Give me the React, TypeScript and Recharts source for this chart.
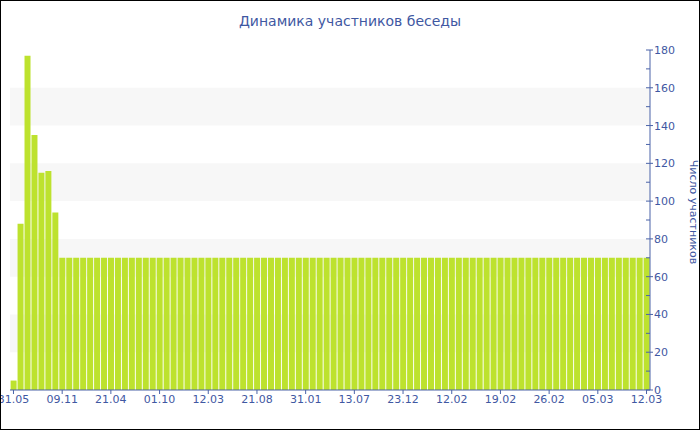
import React from 'react';
import { BarChart, Bar, XAxis, YAxis, ReferenceArea } from 'recharts';

const title = 'Динамика участников беседы';
const yAxisTitle = 'Число участников';

const tickLabels = ['31.05', '09.11', '21.04', '01.10', '12.03', '21.08', '31.01', '13.07', '23.12', '12.02', '19.02', '26.02', '05.03', '12.03'];

const participants = [
  5, 88, 177, 135, 115, 116, 94,
  70, 70, 70, 70, 70, 70, 70,
  70, 70, 70, 70, 70, 70, 70,
  70, 70, 70, 70, 70, 70, 70,
  70, 70, 70, 70, 70, 70, 70,
  70, 70, 70, 70, 70, 70, 70,
  70, 70, 70, 70, 70, 70, 70,
  70, 70, 70, 70, 70, 70, 70,
  70, 70, 70, 70, 70, 70, 70,
  70, 70, 70, 70, 70, 70, 70,
  70, 70, 70, 70, 70, 70, 70,
  70, 70, 70, 70, 70, 70, 70,
  70, 70, 70, 70, 70, 70, 70,
  70,
];

const yTicks = [0, 10, 20, 30, 40, 50, 60, 70, 80, 90, 100, 110, 120, 130, 140, 150, 160, 170, 180];
const bands = [[20, 40], [60, 80], [100, 120], [140, 160]];

const data = participants.map((v, i) => ({ i, v }));

const AXIS = '#4a63a8';
const TEXT = '#3f58a2';
const BAR = '#bde22e';
const FONT = '"DejaVu Sans", Verdana, sans-serif';

const RightTick = (props: any) => {
  const { x, y, payload } = props;
  const v = payload.value;
  const major = v % 20 === 0;
  return (
    <g>
      <line x1={x - 4} x2={major ? x + 3 : x} y1={y} y2={y} stroke={AXIS} strokeWidth={1} />
      {major && (
        <text x={x + 4} y={y} dy="0.36em" fill={TEXT} fontSize={11} fontFamily={FONT} textAnchor="start">
          {v}
        </text>
      )}
    </g>
  );
};

const BottomTick = (props: any) => {
  const { x, y, payload } = props;
  const label = tickLabels[Math.round(payload.value / 7)] ?? '';
  return (
    <text x={x} y={y} dy="0.71em" fill={TEXT} fontSize={11} fontFamily={FONT} textAnchor="middle">
      {label}
    </text>
  );
};

const YTitle = (props: any) => {
  const { viewBox } = props;
  const cx = viewBox.x + 43;
  const cy = viewBox.y + viewBox.height / 2 - 8;
  return (
    <text
      x={cx}
      y={cy}
      transform={`rotate(90, ${cx}, ${cy})`}
      textAnchor="middle"
      dominantBaseline="central"
      fill={TEXT}
      fontSize={11}
      fontFamily={FONT}
    >
      {yAxisTitle}
    </text>
  );
};

export default function App() {
  return (
    <div style={{ position: 'fixed', left: 0, top: 0, width: 700, height: 430, background: '#fff' }}>
      <BarChart
        width={700}
        height={430}
        data={data}
        margin={{ top: 50, right: 0, left: 10, bottom: 0 }}
        barCategoryGap={0.6}
      >
        {bands.map(([a, b]) => (
          <ReferenceArea key={a} y1={a} y2={b} fill="#f7f7f7" fillOpacity={1} stroke="none" ifOverflow="hidden" />
        ))}
        <XAxis
          dataKey="i"
          type="category"
          interval={6}
          height={40}
          stroke={AXIS}
          tickSize={4}
          tickMargin={1}
          tick={<BottomTick />}
          tickLine={{ stroke: AXIS }}
          axisLine={{ stroke: AXIS }}
        />
        <YAxis
          orientation="right"
          domain={[0, 180]}
          ticks={yTicks}
          interval={0}
          width={50}
          tickSize={0}
          tickMargin={0}
          tickLine={false}
          axisLine={{ stroke: AXIS }}
          tick={<RightTick />}
          label={{ content: <YTitle /> }}
        />
        <Bar dataKey="v" fill={BAR} isAnimationActive={false} />
      </BarChart>
      <div
        style={{
          position: 'absolute',
          left: 0,
          top: 12,
          width: 700,
          textAlign: 'center',
          fontFamily: FONT,
          fontSize: 14,
          lineHeight: '18px',
          color: TEXT,
        }}
      >
        {title}
      </div>
      <div
        style={{
          position: 'absolute',
          left: 0,
          top: 0,
          width: 700,
          height: 430,
          boxSizing: 'border-box',
          border: '1px solid #000',
          pointerEvents: 'none',
        }}
      />
    </div>
  );
}
